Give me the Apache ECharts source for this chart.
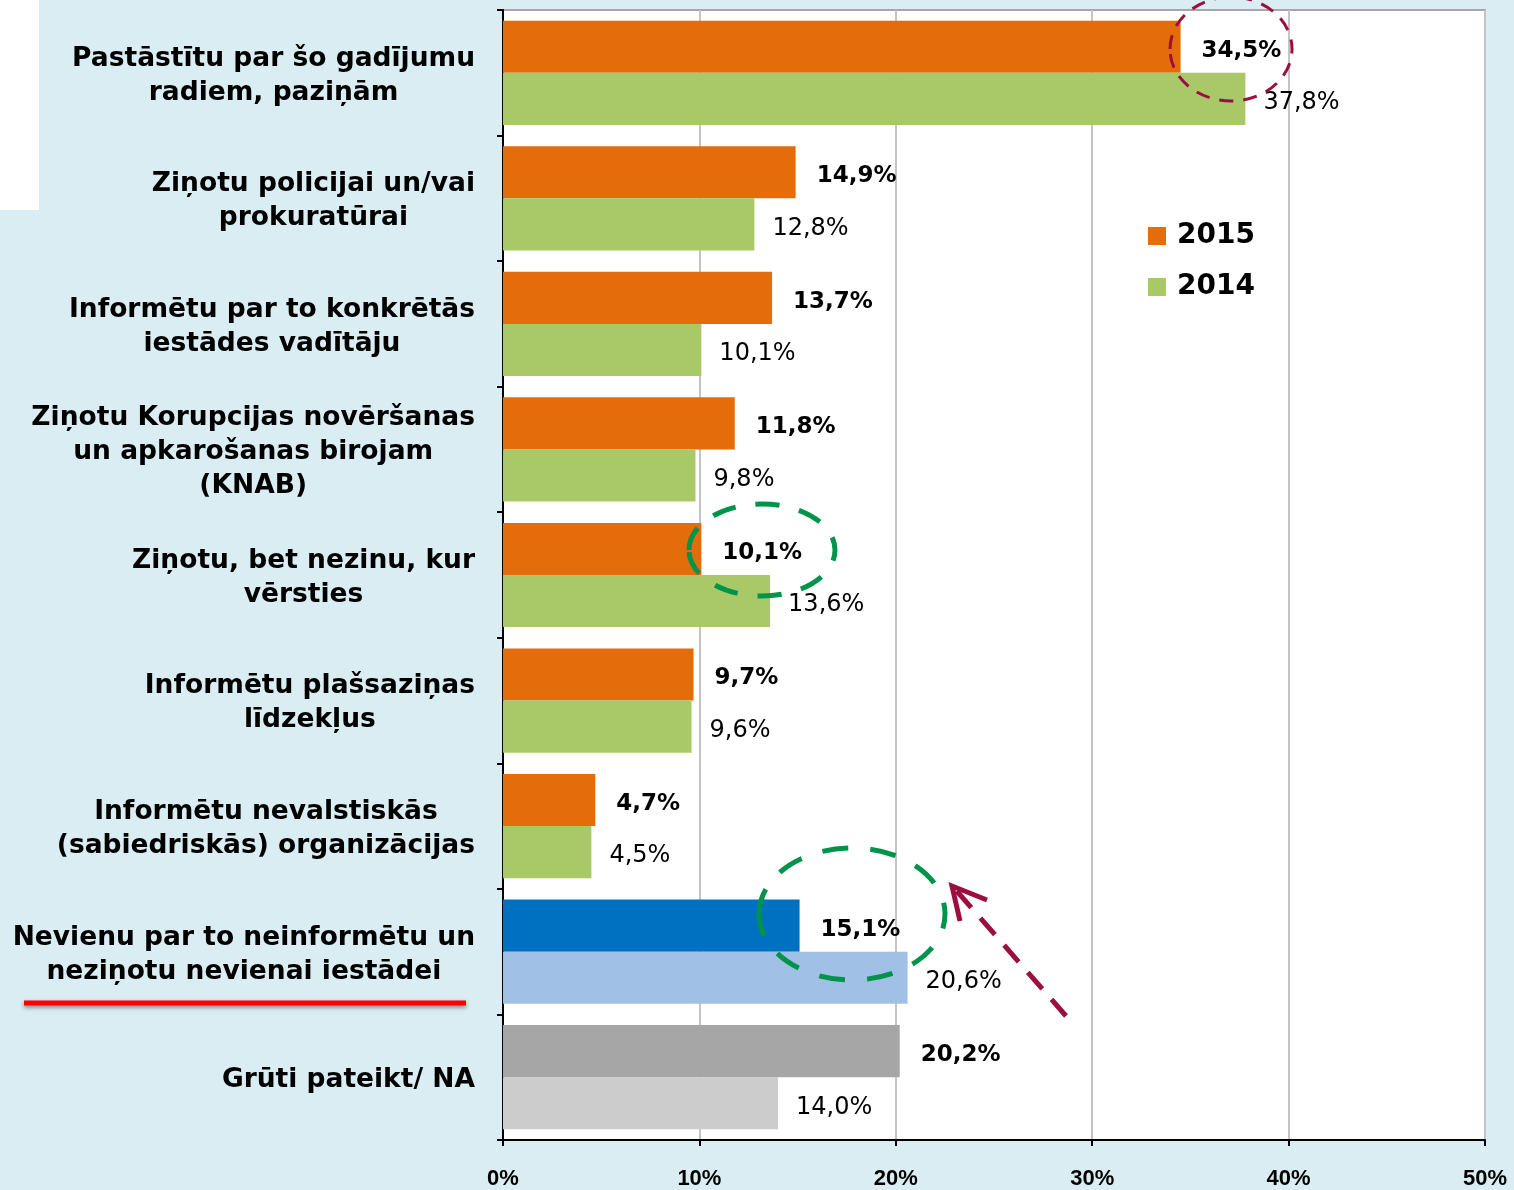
<!DOCTYPE html>
<html>
<head>
<meta charset="utf-8">
<script src="https://cdn.jsdelivr.net/npm/echarts@6/dist/echarts.min.js"></script>
<style>
  html, body { margin: 0; padding: 0; background: #daedf3; }
  #main { width: 1514px; height: 1190px; }
</style>
</head>
<body>
<div id="main"></div>
<script>
// kategorijas (no augšas uz leju)
const categories = [
  'Pastāstītu par šo gadījumu\nradiem, paziņām',
  'Ziņotu policijai un/vai\nprokuratūrai',
  'Informētu par to konkrētās\niestādes vadītāju',
  'Ziņotu Korupcijas novēršanas\nun apkarošanas birojam\n(KNAB)',
  'Ziņotu, bet nezinu, kur\nvērsties',
  'Informētu plašsaziņas\nlīdzekļus',
  'Informētu nevalstiskās\n(sabiedriskās) organizācijas',
  'Nevienu par to neinformētu un\nneziņotu nevienai iestādei',
  'Grūti pateikt/ NA'
]
const values2015 = [34.5, 14.9, 13.7, 11.8, 10.1, 9.7, 4.7, 15.1, 20.2]
const values2014 = [37.8, 12.8, 10.1, 9.8, 13.6, 9.6, 4.5, 20.6, 14.0]
const xTicks = [0, 10, 20, 30, 40, 50]

// krāsas
const color2015 = '#e46c0a'
const color2014 = '#a9c968'
// izceltās kategorijas: [2015, 2014]
const specialColors = {
  7: ['#0070c0', '#a0c0e6'],
  8: ['#a6a6a6', '#cccccc']
}

let chart = echarts.init(document.getElementById('main'))

function fmt(v) {
  return v.toFixed(1).replace('.', ',') + '%'
}

function buildData(values, idx) {
  return values.map(function(v, i) {
    if (specialColors[i]) {
      return { value: v, itemStyle: { color: specialColors[i][idx] } }
    }
    return v
  })
}

// y ass etiķetes: bloks pa labi, rindas centrētas
function yLabel(text) {
  return text.split('\n').map(function(line) {
    return '{c|' + line + '}'
  }).join('\n')
}

const font = 'DejaVu Sans, Verdana, sans-serif'

let option = {
  backgroundColor: '#daedf3',
  animation: false,
  grid: {
    left: 503,
    right: 29,
    top: 10,
    bottom: 47,
    show: true,
    backgroundColor: '#ffffff',
    borderColor: '#a6a6a6',
    borderWidth: 2
  },
  legend: {
    orient: 'vertical',
    left: 1143,
    top: 217,
    itemWidth: 18,
    itemHeight: 18,
    itemGap: 23,
    icon: 'rect',
    data: ['2015', '2014'],
    textStyle: {
      fontFamily: font,
      fontWeight: 'bold',
      fontSize: 28,
      padding: [0, 0, 0, 6],
      color: '#000'
    }
  },
  xAxis: {
    type: 'value',
    min: xTicks[0],
    max: xTicks[xTicks.length - 1],
    interval: 10,
    axisLine: { show: true, lineStyle: { color: '#000', width: 2 } },
    axisTick: { show: true, length: 6, lineStyle: { color: '#000', width: 2 } },
    splitLine: { show: true, lineStyle: { color: '#c4c4c4', width: 2 } },
    axisLabel: {
      margin: 28,
      formatter: '{value}%',
      fontFamily: 'Liberation Sans Narrow, Arial Narrow, Liberation Sans, sans-serif',
      fontWeight: 'bold',
      fontSize: 22,
      color: '#000'
    }
  },
  yAxis: {
    type: 'category',
    inverse: true,
    data: categories,
    axisLine: { show: true, lineStyle: { color: '#000', width: 2 } },
    axisTick: { show: true, length: 6, lineStyle: { color: '#000', width: 2 } },
    axisLabel: {
      margin: 28,
      align: 'right',
      formatter: yLabel,
      rich: {
        c: {
          align: 'center',
          fontFamily: font,
          fontWeight: 'bold',
          fontSize: 26.5,
          lineHeight: 34,
          padding: [6, 0, 0, 0],
          color: '#000'
        }
      }
    }
  },
  series: [
    {
      name: '2015',
      type: 'bar',
      barGap: 0,
      barCategoryGap: '17%',
      itemStyle: { color: color2015 },
      label: {
        show: true,
        position: 'right',
        distance: 21,
        offset: [0, 4],
        formatter: function(p) { return fmt(p.value) },
        fontFamily: font,
        fontWeight: 'bold',
        fontSize: 23,
        color: '#000'
      },
      data: buildData(values2015, 0)
    },
    {
      name: '2014',
      type: 'bar',
      barGap: 0,
      barCategoryGap: '17%',
      itemStyle: { color: color2014 },
      label: {
        show: true,
        position: 'right',
        distance: 18,
        offset: [0, 4],
        formatter: function(p) { return fmt(p.value) },
        fontFamily: font,
        fontSize: 24,
        color: '#000'
      },
      data: buildData(values2014, 1)
    }
  ],
  graphic: [
    // balts stūris augšā pa kreisi
    { type: 'rect', left: 0, top: 0, shape: { width: 39, height: 210 }, style: { fill: '#ffffff' }, z: 0 },
    // sarkans pasvītrojums
    {
      type: 'line',
      shape: { x1: 24, y1: 1003, x2: 466, y2: 1003 },
      style: { stroke: '#ff0000', lineWidth: 5, shadowBlur: 4, shadowOffsetY: 2, shadowColor: 'rgba(0,0,0,0.45)' },
      z: 100
    },
    // apļi
    {
      type: 'ellipse',
      shape: { cx: 1231, cy: 49, rx: 61, ry: 52 },
      style: { fill: 'none', stroke: '#9b0e3f', lineWidth: 3, lineDash: [14, 10] },
      z: 100
    },
    {
      type: 'ellipse',
      shape: { cx: 762, cy: 550, rx: 73, ry: 46 },
      style: { fill: 'none', stroke: '#00934a', lineWidth: 5, lineDash: [24, 20] },
      z: 100
    },
    {
      type: 'ellipse',
      shape: { cx: 852, cy: 914, rx: 93, ry: 66 },
      style: { fill: 'none', stroke: '#00934a', lineWidth: 5, lineDash: [26, 22] },
      z: 100
    },
    // bulta
    {
      type: 'line',
      shape: { x1: 1066, y1: 1016, x2: 955, y2: 889 },
      style: { stroke: '#9b0e3f', lineWidth: 5, lineDash: [22, 14] },
      z: 100
    },
    {
      type: 'polyline',
      shape: { points: [[987, 900], [952, 886], [960, 921]] },
      style: { fill: 'none', stroke: '#9b0e3f', lineWidth: 5 },
      z: 100
    }
  ]
}

chart.setOption(option)
</script>
</body>
</html>
